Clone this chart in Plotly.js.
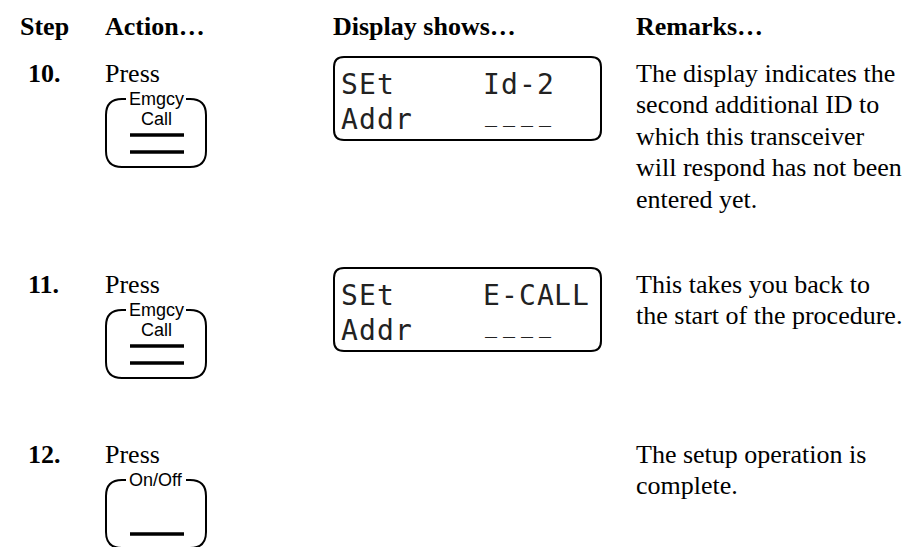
<!DOCTYPE html>
<html>
<head>
<meta charset="utf-8">
<script src="https://cdn.plot.ly/plotly-3.0.1.min.js"></script>
<style>html,body{margin:0;padding:0;background:#fff;}#chart{width:912px;height:547px;}</style>
</head>
<body>
<div id="chart"></div>
<script>
// ---- content ----
const headers = ["Step", "Action…", "Display shows…", "Remarks…"];
const steps = ["10.", "11.", "12."];
const actionVerbs = ["Press", "Press", "Press"];
const keyTopLabels = ["Emgcy", "Emgcy", "On/Off"];
const keyInnerLabels = ["Call", "Call", ""];
const keyBars = [2, 2, 1];
const displayLine1 = [["SEt", "Id-2"], ["SEt", "E-CALL"], null];
const displayLine2 = [["Addr", "____"], ["Addr", "____"], null];
const remarks = [
  ["The display indicates the", "second additional ID to", "which this transceiver", "will respond has not been", "entered yet."],
  ["This takes you back to", "the start of the procedure."],
  ["The setup operation is", "complete."]
];

// ---- layout constants ----
const W = 912, H = 547;
const headerX = [19, 104, 332, 635];
const headerY = 26;
const rowY = [73, 284, 454];
const stepX = 27, actionX = 104, remarkX = 635, remarkLH = 31.5;
const serif = "Liberation Serif, Times New Roman, serif";
const sans = "Liberation Sans, Arial, sans-serif";
const mono = "DejaVu Sans Mono, monospace";

const annotations = [];
const shapes = [];

function txt(x, y, text, size, family, opts) {
  annotations.push(Object.assign({
    x: x, y: y, xref: "x", yref: "y", text: text, showarrow: false,
    xanchor: "left", yanchor: "middle", borderpad: 0,
    font: {family: family, size: size, color: "#000"}
  }, opts || {}));
}

headers.forEach((h, i) => txt(headerX[i], headerY, "<b>" + h + "</b>", 26, serif));

// button geometry
const bL = 106, bR = 206, bTop = 26, bBot = 94, bRad = 16, gapHalf = 30, bCx = (bL + bR) / 2;
const barX0 = 130, barX1 = 184;

// display geometry
const dL = 334, dR = 601, dTop = -16, dBot = 67, dRad = 10;
const lcdX0 = 341, pitch = 17.75, col2 = 8, lcdRow = [11, 46];

function lcdField(str, startCol, y) {
  for (let i = 0; i < str.length; i++) {
    const ch = str[i];
    const under = ch === "_";
    annotations.push({
      x: lcdX0 + (startCol + i + 0.5) * pitch, y: under ? y - 4 : y, xref: "x", yref: "y",
      text: ch, showarrow: false, xanchor: "center", yanchor: "middle", borderpad: 0,
      font: {family: mono, size: under ? 20 : 28, color: "#222"}
    });
  }
}

steps.forEach((s, i) => {
  const y = rowY[i];
  txt(stepX, y, "<b>" + s + "</b>", 26, serif);
  txt(actionX, y, actionVerbs[i], 26, serif);

  // key outline with a gap for its label
  const T = y + bTop, B = y + bBot;
  shapes.push({
    type: "path", xref: "x", yref: "y",
    path: `M ${bCx - gapHalf},${T} L ${bL + bRad},${T} Q ${bL},${T} ${bL},${T + bRad} L ${bL},${B - bRad} Q ${bL},${B} ${bL + bRad},${B} L ${bR - bRad},${B} Q ${bR},${B} ${bR},${B - bRad} L ${bR},${T + bRad} Q ${bR},${T} ${bR - bRad},${T} L ${bCx + gapHalf},${T}`,
    line: {color: "#000", width: 2}
  });
  txt(bCx, T, keyTopLabels[i], 18, sans, {xanchor: "center"});
  if (keyInnerLabels[i]) txt(bCx, y + 46, keyInnerLabels[i], 18, sans, {xanchor: "center"});
  const barYs = keyBars[i] === 2 ? [62, 79] : [80];
  barYs.forEach(by => shapes.push({
    type: "line", xref: "x", yref: "y", x0: barX0, x1: barX1, y0: y + by, y1: y + by,
    line: {color: "#000", width: 3.5}
  }));

  // display
  if (displayLine1[i]) {
    const t = y + dTop, b = y + dBot;
    shapes.push({
      type: "path", xref: "x", yref: "y",
      path: `M ${dL + dRad},${t} L ${dR - dRad},${t} Q ${dR},${t} ${dR},${t + dRad} L ${dR},${b - dRad} Q ${dR},${b} ${dR - dRad},${b} L ${dL + dRad},${b} Q ${dL},${b} ${dL},${b - dRad} L ${dL},${t + dRad} Q ${dL},${t} ${dL + dRad},${t} Z`,
      line: {color: "#000", width: 2}
    });
    [displayLine1[i], displayLine2[i]].forEach((ln, k) => {
      lcdField(ln[0], 0, y + lcdRow[k]);
      lcdField(ln[1], col2, y + lcdRow[k]);
    });
  }

  remarks[i].forEach((line, k) => txt(remarkX, y + k * remarkLH, line, 26, serif));
});

const layout = {
  width: W, height: H,
  margin: {l: 0, r: 0, t: 0, b: 0},
  paper_bgcolor: "#fff", plot_bgcolor: "#fff",
  xaxis: {range: [0, W], visible: false, fixedrange: true},
  yaxis: {range: [H, 0], visible: false, fixedrange: true},
  showlegend: false,
  annotations: annotations,
  shapes: shapes
};

Plotly.newPlot("chart", [{x: [], y: [], type: "scatter", mode: "markers", hoverinfo: "skip"}], layout,
  {displayModeBar: false, staticPlot: true});
</script>
</body>
</html>
